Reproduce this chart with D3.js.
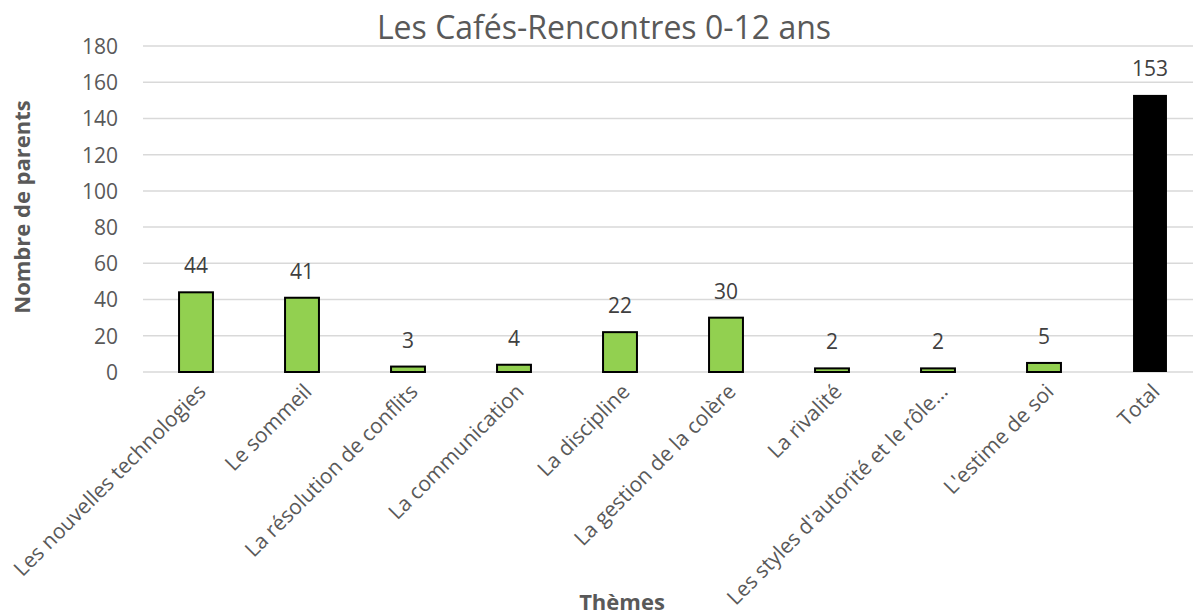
<!DOCTYPE html>
<html>
<head>
<meta charset="utf-8">
<script src="https://cdn.jsdelivr.net/npm/d3@7"></script>
<style>
  body { margin: 0; background: #fff; }
  svg { display: block; font-family: "Open Sans", sans-serif; }
</style>
</head>
<body>
<svg width="1193" height="616"></svg>
<script>
const categories = ["Les nouvelles technologies", "Le sommeil", "La résolution de conflits",
    "La communication", "La discipline", "La gestion de la colère", "La rivalité",
    "Les styles d'autorité et le rôle…", "L'estime de soi", "Total"];
const values = [44, 41, 3, 4, 22, 30, 2, 2, 5, 153];
const yTicks = [0, 20, 40, 60, 80, 100, 120, 140, 160, 180];

const svg = d3.select("svg");

// plot area
const plotLeft = 143, plotRight = 1203, plotTop = 46, plotBottom = 372;

const x = d3.scaleBand()
    .domain(categories)
    .range([plotLeft, plotRight])
    .paddingInner(0.68)
    .paddingOuter(0.34);

const y = d3.scaleLinear()
    .domain([0, 180])
    .range([plotBottom, plotTop]);

// gridlines
svg.append("g")
    .selectAll("line")
    .data(yTicks)
    .join("line")
    .attr("x1", plotLeft)
    .attr("x2", 1193)
    .attr("y1", d => y(d))
    .attr("y2", d => y(d))
    .attr("stroke", "#d9d9d9")
    .attr("stroke-width", 1.5);

// y tick labels
const yAxis = svg.append("g")
    .attr("transform", "translate(118,0)")
    .call(d3.axisLeft(y).tickValues(yTicks).tickSize(0).tickPadding(0));
yAxis.select(".domain").remove();
yAxis.selectAll("text")
    .attr("font-family", "Open Sans")
    .attr("font-size", 21)
    .attr("fill", "#595959")
    .attr("dy", "0.35em");

// bars
svg.append("g")
    .selectAll("rect")
    .data(values)
    .join("rect")
    .attr("x", (d, i) => x(categories[i]))
    .attr("y", d => y(d))
    .attr("width", x.bandwidth())
    .attr("height", d => y(0) - y(d))
    .attr("fill", (d, i) => categories[i] === "Total" ? "#000000" : "#92d050")
    .attr("stroke", "#000")
    .attr("stroke-width", (d, i) => categories[i] === "Total" ? 0 : 2);

// value labels
svg.append("g")
    .selectAll("text")
    .data(values)
    .join("text")
    .attr("x", (d, i) => x(categories[i]) + x.bandwidth() / 2)
    .attr("y", d => y(d) - 19)
    .attr("text-anchor", "middle")
    .attr("font-size", 21)
    .attr("fill", "#404040")
    .text(d => d);

// x labels, rotated
const xAxis = svg.append("g")
    .attr("transform", "translate(11,393)")
    .call(d3.axisBottom(x).tickSize(0).tickPadding(0));
xAxis.select(".domain").remove();
xAxis.selectAll("text")
    .attr("font-family", "Open Sans")
    .attr("font-size", 21)
    .attr("fill", "#595959")
    .attr("dy", 0)
    .attr("text-anchor", "end")
    .attr("transform", "rotate(-45)");

// title
svg.append("text")
    .attr("x", 604)
    .attr("y", 39)
    .attr("text-anchor", "middle")
    .attr("font-size", 32)
    .attr("fill", "#595959")
    .text("Les Cafés-Rencontres 0-12 ans");

// axis titles
svg.append("text")
    .attr("transform", "translate(30,207) rotate(-90)")
    .attr("text-anchor", "middle")
    .attr("font-size", 22)
    .attr("font-weight", "bold")
    .attr("fill", "#595959")
    .text("Nombre de parents");

svg.append("text")
    .attr("x", 622)
    .attr("y", 610)
    .attr("text-anchor", "middle")
    .attr("font-size", 22)
    .attr("font-weight", "bold")
    .attr("fill", "#595959")
    .text("Thèmes");
</script>
</body>
</html>
